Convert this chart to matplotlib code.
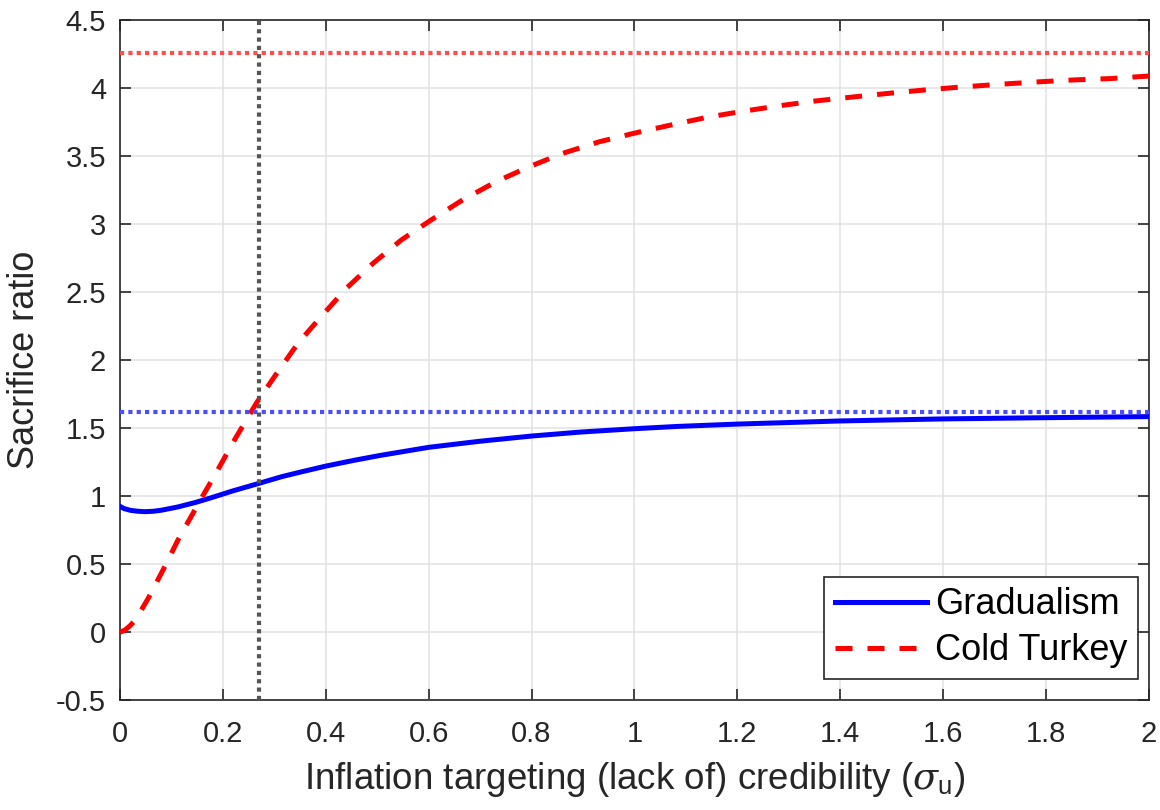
import numpy as np
import matplotlib
matplotlib.use('Agg')
import matplotlib.pyplot as plt

plt.rcParams['font.family'] = ['Liberation Sans', 'DejaVu Sans']
plt.rcParams['mathtext.fontset'] = 'custom'
plt.rcParams['mathtext.rm'] = 'Liberation Sans'
plt.rcParams['mathtext.it'] = 'DejaVu Serif:italic'

# values
grad_x = [0.0, 0.008, 0.02, 0.035, 0.049, 0.065, 0.081, 0.113, 0.146, 0.178,
          0.217, 0.271, 0.315, 0.353, 0.4, 0.457, 0.505, 0.6, 0.7, 0.8, 0.894,
          1.0, 1.085, 1.2, 1.4, 1.6, 1.8, 2.0]
grad_y = [0.926, 0.910, 0.897, 0.890, 0.887, 0.890, 0.898, 0.922, 0.954, 0.990,
          1.037, 1.096, 1.145, 1.180, 1.222, 1.266, 1.300, 1.360, 1.405, 1.443,
          1.472, 1.497, 1.514, 1.531, 1.554, 1.569, 1.578, 1.586]

cold_x = [0.0, 0.01, 0.02, 0.03, 0.055, 0.084, 0.113, 0.156, 0.191, 0.225,
          0.266, 0.304, 0.346, 0.391, 0.44, 0.492, 0.547, 0.605, 0.666, 0.731,
          0.796, 0.861, 0.932, 1.0, 1.071, 1.142, 1.211, 1.283, 1.353, 1.425,
          1.495, 1.566, 1.638, 1.709, 1.78, 1.852, 1.924, 2.0]
cold_y = [0.0, 0.017, 0.05, 0.09, 0.25, 0.46, 0.68, 0.97, 1.20, 1.43,
          1.69, 1.90, 2.125, 2.321, 2.529, 2.713, 2.885, 3.032, 3.179, 3.313,
          3.424, 3.522, 3.607, 3.67, 3.73, 3.787, 3.831, 3.872, 3.907, 3.936,
          3.963, 3.988, 4.01, 4.029, 4.046, 4.061, 4.071, 4.09]

grad_limit = 1.618    # blue dotted line
cold_limit = 4.257    # red dotted line
sigma_mark = 0.271    # vertical dotted line

x_ticks = [0, 0.2, 0.4, 0.6, 0.8, 1, 1.2, 1.4, 1.6, 1.8, 2]
x_labels = ['0', '0.2', '0.4', '0.6', '0.8', '1', '1.2', '1.4', '1.6', '1.8', '2']
y_ticks = [-0.5, 0, 0.5, 1, 1.5, 2, 2.5, 3, 3.5, 4, 4.5]
y_labels = ['-0.5', '0', '0.5', '1', '1.5', '2', '2.5', '3', '3.5', '4', '4.5']

fig = plt.figure(figsize=(11.6, 8.1), dpi=100)
ax = fig.add_axes([0.1034, 0.1354, 0.8871, 0.8396])

ax.plot(grad_x, grad_y, color='#0000FF', lw=3.6, label='Gradualism', zorder=3)
ax.plot(cold_x, cold_y, color='#FF0000', lw=3.6, dashes=(3.4, 3.0),
        dash_capstyle='butt', label='Cold Turkey', zorder=3)

ax.axhline(cold_limit, color='#FF4D4D', lw=3.0, dashes=(1.0, 1.0), zorder=4)
ax.axhline(grad_limit, color='#4D4DFF', lw=3.0, dashes=(1.0, 1.0), zorder=4)
ax.axvline(sigma_mark, color='#555555', lw=3.0, dashes=(1.0, 1.0), zorder=4)

ax.set_xlim(0, 2)
ax.set_ylim(-0.5, 4.5)
ax.set_xticks(x_ticks)
ax.set_xticklabels(x_labels)
ax.set_yticks(y_ticks)
ax.set_yticklabels(y_labels)

ax.grid(True, color='#E1E1E1', lw=1.1)
ax.set_axisbelow(True)
for s in ax.spines.values():
    s.set_color('#262626')
    s.set_linewidth(1.2)
ax.tick_params(direction='in', length=8, width=1.2, top=True, right=True,
               colors='#262626', labelsize=21)
ax.tick_params(axis='x', pad=14)
ax.tick_params(axis='y', pad=10)

ax.set_ylabel('Sacrifice ratio', fontsize=26, color='#262626', labelpad=10)
ax.set_xlabel(r'Inflation targeting (lack of) credibility ($\sigma_{\mathrm{u}}$)',
              fontsize=26.5, color='#262626', labelpad=9)

leg = ax.legend(loc='lower right', bbox_to_anchor=(0.9893, 0.0313), borderaxespad=0,
                fontsize=26, frameon=True, fancybox=False,
                handlelength=2.55, handletextpad=0.22, borderpad=0.3,
                labelspacing=0.3, edgecolor='#262626')
leg.get_frame().set_linewidth(1.2)
leg.get_frame().set_alpha(1)

fig.savefig('out.png', dpi=100)
